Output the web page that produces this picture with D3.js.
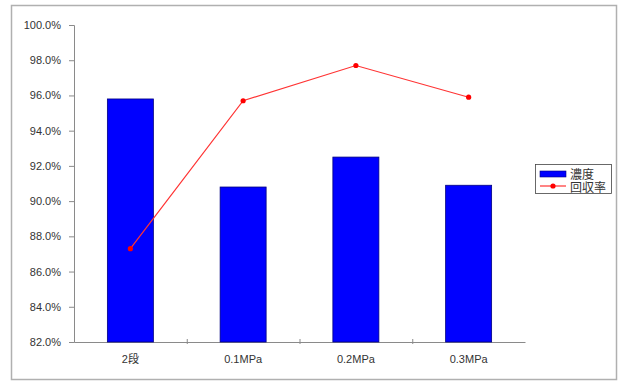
<!DOCTYPE html>
<html><head><meta charset="utf-8">
<script src="https://cdn.jsdelivr.net/npm/d3@7"></script>
<style>body{margin:0;background:#fff}svg{display:block}text{font-family:"Liberation Sans","Noto Sans CJK JP",Arial,sans-serif}</style>
</head><body><svg id="c" width="622" height="383"></svg>
<script>
const categories = ["2段","0.1MPa","0.2MPa","0.3MPa"];
const concentration = [95.8, 90.8, 92.5, 90.9];
const recovery = [87.3, 95.7, 97.7, 95.9];
const yTicks = [82,84,86,88,90,92,94,96,98,100];
const seriesNames = ["濃度","回収率"];

const svg = d3.select("#c");
svg.append("rect").attr("x",11.5).attr("y",5.5).attr("width",605).attr("height",374)
  .attr("fill","#fff").attr("stroke","#b0b0b0").attr("stroke-width",1.5);

const x = d3.scaleBand().domain(categories).range([74,525]);
const y = d3.scaleLinear().domain([82,100]).range([342,25]);

const yAxis = svg.append("g").attr("transform","translate(74,0)")
  .call(d3.axisLeft(y).tickValues(yTicks).tickSize(5).tickFormat(d=>d.toFixed(1)+"%"));
yAxis.selectAll("path,line").attr("stroke","#8a8a8a");
yAxis.selectAll("text").attr("fill","#333").attr("font-size","11px").attr("dx","-5");

const xAxis = svg.append("g").attr("transform","translate(0,342)")
  .call(d3.axisBottom(x).tickSize(0).tickSizeOuter(0));
xAxis.select("path").attr("stroke","#8a8a8a");
xAxis.selectAll("text").attr("fill","#333").attr("font-size","11px").attr("dy","1.6em");
svg.append("g").selectAll("line").data(categories.slice(1)).join("line")
  .attr("x1",d=>x(d)+0.5).attr("x2",d=>x(d)+0.5).attr("y1",339).attr("y2",344)
  .attr("stroke","#8a8a8a");

const bw = 46;
svg.append("g").selectAll("rect").data(categories).join("rect")
  .attr("x",(d)=>x(d)+x.bandwidth()/2-bw/2)
  .attr("y",(d,i)=>y(concentration[i]))
  .attr("width",bw)
  .attr("height",(d,i)=>y(82)-y(concentration[i]))
  .attr("fill","#0000ff").attr("stroke","#000080").attr("stroke-width",0.8);

const line = d3.line().x((d,i)=>x(categories[i])+x.bandwidth()/2).y(d=>y(d));
svg.append("path").datum(recovery).attr("d",line).attr("fill","none")
  .attr("stroke","#ff3333").attr("stroke-width",1.2);
svg.append("g").selectAll("circle").data(recovery).join("circle")
  .attr("cx",(d,i)=>x(categories[i])+x.bandwidth()/2).attr("cy",d=>y(d)).attr("r",2.6)
  .attr("fill","#ff0000");

const lg = svg.append("g");
lg.append("rect").attr("x",535.5).attr("y",164.5).attr("width",76).attr("height",29)
  .attr("fill","#fff").attr("stroke","#444").attr("stroke-width",0.8);
lg.append("rect").attr("x",540).attr("y",171).attr("width",26).attr("height",6)
  .attr("fill","#0000ff").attr("stroke","#000080").attr("stroke-width",0.6);
lg.append("line").attr("x1",540).attr("x2",566).attr("y1",186).attr("y2",186)
  .attr("stroke","#ff3333").attr("stroke-width",1.2);
lg.append("circle").attr("cx",553).attr("cy",186).attr("r",2.6).attr("fill","#ff0000");
lg.selectAll("text").data(seriesNames).join("text")
  .attr("x",570).attr("y",(d,i)=>179+i*13).attr("font-size","12px").attr("fill","#333")
  .attr("font-family","'Noto Sans CJK JP',sans-serif").text(d=>d);
</script></body></html>
